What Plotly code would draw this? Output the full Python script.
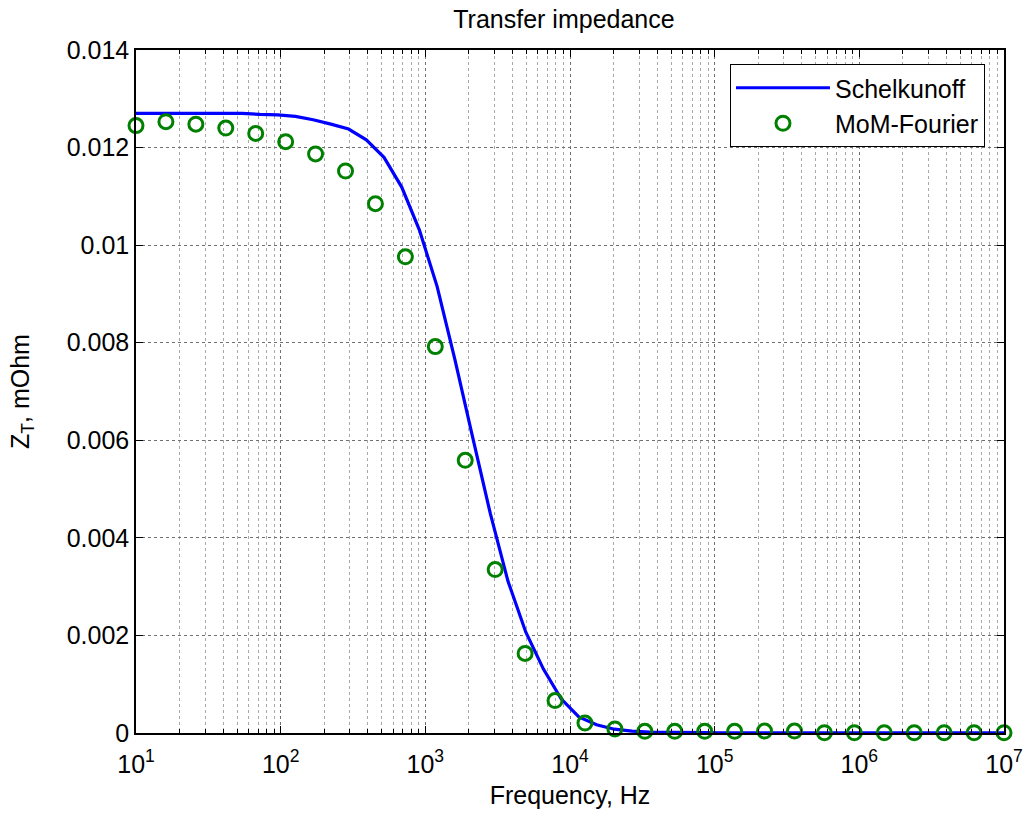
import plotly.graph_objects as go

# Frequency grid of the analytic (Schelkunoff) curve, Hz
freq_schelkunoff = [
    10, 13.26, 17.58, 23.30, 30.89, 40.95, 54.29, 71.97, 95.41, 126.5,
    167.7, 222.3, 294.7, 390.7, 517.9, 686.6, 910.3, 1207, 1600, 2121,
    2812, 3728, 4942, 6551, 8685, 11510, 15260, 20240, 26830, 35560,
    47150, 62510, 82860, 109900, 145600, 193100, 256000, 339300, 449900, 596400,
    790600, 1048000, 1389000, 1842000, 2442000, 3237000, 4292000, 5690000, 7543000, 10000000,
]
zt_schelkunoff = [
    0.01270, 0.01270, 0.01270, 0.01270, 0.01270, 0.01270, 0.01270, 0.01268, 0.01267, 0.01264,
    0.01257, 0.01248, 0.01238, 0.01216, 0.01180, 0.01119, 0.01031, 0.00915, 0.00766, 0.00607,
    0.00450, 0.00311, 0.00207, 0.00131, 0.00070, 0.00033, 0.00017, 0.000078, 0.000037, 0.000020,
    0.000012, 0.000008, 0.000006, 0.000005, 0.000004, 0.000004, 0.000003, 0.000003, 0.000003, 0.000002,
    0.000002, 0.000002, 0.000002, 0.000002, 0.000001, 0.000001, 0.000001, 0.000001, 0.000001, 0.000001,
]

# Frequencies and values of the MoM-Fourier solution
freq_mom = [
    10, 16.10, 25.93, 41.75, 67.23, 108.3, 174.3, 280.7, 452.0, 727.9,
    1172, 1887, 3039, 4894, 7880, 12690, 20430, 32900, 52980, 85310,
    137400, 221200, 356200, 573600, 923600, 1487000, 2395000, 3857000, 6210000, 10000000,
]
zt_mom = [
    0.01245, 0.01253, 0.01248, 0.01240, 0.01229, 0.01212, 0.01187, 0.01152, 0.01085, 0.00976,
    0.00792, 0.00559, 0.00335, 0.00163, 0.000665, 0.000204, 0.000082, 0.000035, 0.000035, 0.000035,
    0.000035, 0.000040, 0.000040, 0.000005, 0.000005, 0.000005, 0.000005, 0.000005, 0.000005, 0.000005,
]

x_tick_vals = [1e1, 1e2, 1e3, 1e4, 1e5, 1e6, 1e7]
x_tick_text = ["10<sup>%d</sup>" % p for p in range(1, 8)]
y_tick_vals = [0, 0.002, 0.004, 0.006, 0.008, 0.010, 0.012, 0.014]
y_tick_text = ["0", "0.002", "0.004", "0.006", "0.008", "0.01", "0.012", "0.014"]

# minor decade ticks 2..9 x 10^n for the log axis
x_minor = [m * 10 ** p for p in range(1, 7) for m in range(2, 10)]

FONT = "Liberation Sans, Arial, Helvetica, sans-serif"
FS = 25

fig = go.Figure()
fig.add_trace(go.Scatter(
    x=freq_schelkunoff, y=zt_schelkunoff, mode="lines", name="Schelkunoff",
    line=dict(color="#0000ff", width=3.2),
))
fig.add_trace(go.Scatter(
    x=freq_mom, y=zt_mom, mode="markers", name="MoM-Fourier",
    marker=dict(symbol="circle-open", size=14, color="#008000",
                line=dict(color="#008000", width=3)),
    cliponaxis=False,
))

fig.update_layout(
    width=1023, height=817,
    margin=dict(l=136, r=19, t=50, b=84, autoexpand=False),
    paper_bgcolor="white", plot_bgcolor="white",
    font=dict(family=FONT, size=FS, color="black"),
    title=dict(text="Transfer impedance", x=0.5513, xanchor="center",
               y=1 - 19 / 817, yanchor="middle", yref="container",
               font=dict(size=FS)),
    showlegend=True,
    legend=dict(x=0.6843, xanchor="left", y=0.9795, yanchor="top",
                bgcolor="white", bordercolor="black", borderwidth=1,
                font=dict(size=FS), itemwidth=94, tracegroupgap=0),
)

fig.update_xaxes(
    type="log", range=[1, 7], automargin=False,
    tickmode="array", tickvals=x_tick_vals, ticktext=x_tick_text,
    ticks="inside", ticklen=7, tickwidth=1, tickcolor="black",
    ticklabelstandoff=8,
    showline=True, linecolor="black", linewidth=1.5, mirror="ticks",
    showgrid=True, gridcolor="#707070", griddash="dot", gridwidth=1,
    minor=dict(tickmode="array", tickvals=x_minor, ticks="inside", ticklen=4,
               tickcolor="black", showgrid=True, gridcolor="#a8a8a8",
               griddash="dot", gridwidth=1),
    zeroline=False,
    title=dict(text="Frequency, Hz", standoff=10, font=dict(size=FS)),
    tickfont=dict(size=FS),
)
fig.update_yaxes(
    range=[0, 0.014], automargin=False,
    tickmode="array", tickvals=y_tick_vals, ticktext=y_tick_text,
    ticks="inside", ticklen=7, tickwidth=1, tickcolor="black",
    showline=True, linecolor="black", linewidth=1.5, mirror="ticks",
    showgrid=True, gridcolor="#707070", griddash="dot", gridwidth=1,
    zeroline=False,
    title=dict(text="Z<sub>T</sub>, mOhm", standoff=30, font=dict(size=FS)),
    tickfont=dict(size=FS),
)

fig.write_html("out.html")
